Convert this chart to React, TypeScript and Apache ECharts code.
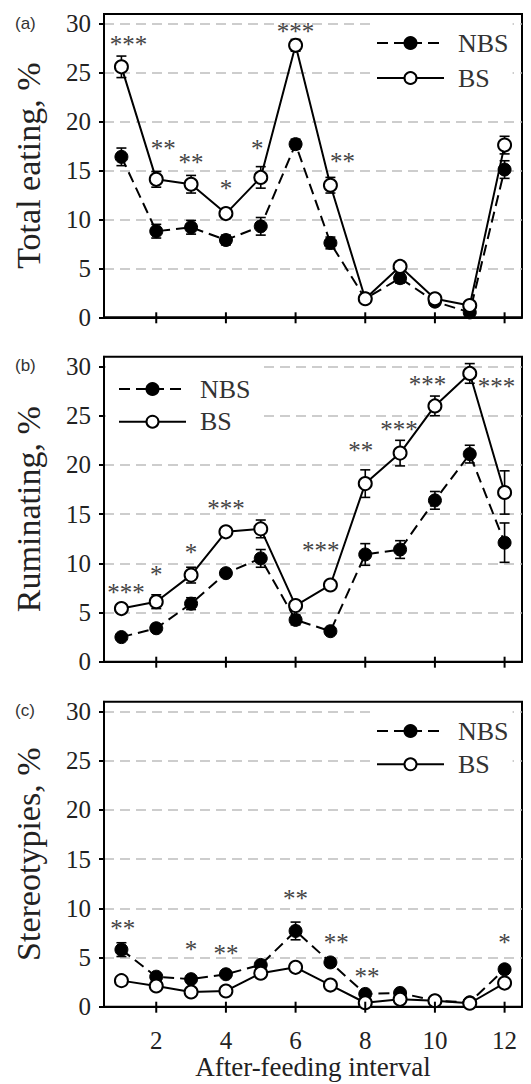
import React, { useEffect, useRef } from "react";
import * as echarts from "echarts";

const intervals = [1, 2, 3, 4, 5, 6, 7, 8, 9, 10, 11, 12];
const xTickValues = [2, 4, 6, 8, 10, 12];
const yTickValues = [0, 5, 10, 15, 20, 25, 30];

const panelNames = ["(a)", "(b)", "(c)"];
const yAxisNames = ["Total eating, %", "Ruminating, %", "Stereotypies, %"];
const xAxisName = "After-feeding interval";

// (a) Total eating
const eatNBS = [16.4, 8.8, 9.2, 7.9, 9.3, 17.7, 7.6, 1.9, 4.0, 1.6, 0.5, 15.1];
const eatNBSerr = [0.9, 0.7, 0.7, 0.5, 0.9, 0.5, 0.6, 0.3, 0.5, 0.4, 0.3, 0.9];
const eatBS = [25.6, 14.1, 13.6, 10.6, 14.3, 27.8, 13.5, 1.9, 5.2, 1.9, 1.2, 17.6];
const eatBSerr = [1.1, 0.8, 0.9, 0.5, 1.1, 0.6, 0.8, 0.3, 0.5, 0.4, 0.3, 0.9];
const eatSigX = [1.2, 2.2, 3.0, 4.0, 4.9, 6.0, 7.35];
const eatSigY = [28.4, 17.8, 16.3, 13.7, 17.8, 29.7, 16.4];
const eatSigText = ["***", "**", "**", "*", "*", "***", "**"];

// (b) Ruminating
const rumNBS = [2.5, 3.4, 5.9, 9.0, 10.5, 4.25, 3.1, 10.9, 11.4, 16.4, 21.1, 12.1];
const rumNBSerr = [0.3, 0.4, 0.6, 0.4, 0.9, 0.5, 0.3, 1.1, 0.9, 0.9, 0.9, 2.0];
const rumBS = [5.4, 6.1, 8.8, 13.2, 13.5, 5.7, 7.8, 18.1, 21.2, 26.0, 29.3, 17.2];
const rumBSerr = [0.3, 0.7, 0.8, 0.4, 0.9, 0.4, 0.3, 1.4, 1.3, 1.0, 1.0, 2.2];
const rumSigX = [1.13, 2.0, 3.0, 4.0, 6.72, 7.87, 8.97, 9.79, 11.77];
const rumSigY = [7.5, 9.35, 11.6, 16.1, 11.8, 22.0, 24.1, 28.7, 28.5];
const rumSigText = ["***", "*", "*", "***", "***", "**", "***", "***", "***"];

// (c) Stereotypies
const stNBS = [5.8, 3.05, 2.8, 3.3, 4.25, 7.7, 4.5, 1.3, 1.4, 0.6, 0.45, 3.8];
const stNBSerr = [0.7, 0.3, 0.3, 0.3, 0.3, 0.9, 0.4, 0.3, 0.2, 0.2, 0.2, 0.4];
const stBS = [2.65, 2.1, 1.5, 1.6, 3.4, 4.0, 2.2, 0.4, 0.75, 0.6, 0.35, 2.4];
const stBSerr = [0.2, 0.2, 0.2, 0.2, 0.3, 0.3, 0.2, 0.1, 0.1, 0.1, 0.1, 0.3];
const stSigX = [1.04, 3.0, 4.0, 6.0, 7.17, 8.05, 12.0];
const stSigY = [8.5, 6.3, 5.9, 11.5, 7.0, 3.6, 7.0];
const stSigText = ["**", "*", "**", "**", "**", "**", "*"];

const panels = [
  { nbs: eatNBS, nbsErr: eatNBSerr, bs: eatBS, bsErr: eatBSerr, sx: eatSigX, sy: eatSigY, st: eatSigText },
  { nbs: rumNBS, nbsErr: rumNBSerr, bs: rumBS, bsErr: rumBSerr, sx: rumSigX, sy: rumSigY, st: rumSigText },
  { nbs: stNBS, nbsErr: stNBSerr, bs: stBS, bsErr: stBSerr, sx: stSigX, sy: stSigY, st: stSigText },
];

const gridTops = [14, 356.7, 701.7];
const gridHeights = [303.3, 305, 305];
const FONT = "'Liberation Serif', 'Times New Roman', serif";
const INK = "#222";

function errorSeries(name: string, vals: number[], errs: number[], idx: number) {
  return {
    type: "custom",
    name,
    xAxisIndex: idx,
    yAxisIndex: idx,
    z: 2,
    data: intervals.map((x, i) => [x, vals[i], errs[i]]),
    renderItem: (params: any, api: any) => {
      const x = api.value(0);
      const y = api.value(1);
      const e = api.value(2);
      const lo = api.coord([x, y - e]);
      const hi = api.coord([x, y + e]);
      const w = 5;
      const st = { stroke: "#000", lineWidth: 1.6 };
      return {
        type: "group",
        children: [
          { type: "line", shape: { x1: lo[0], y1: lo[1], x2: hi[0], y2: hi[1] }, style: st },
          { type: "line", shape: { x1: lo[0] - w, y1: lo[1], x2: lo[0] + w, y2: lo[1] }, style: st },
          { type: "line", shape: { x1: hi[0] - w, y1: hi[1], x2: hi[0] + w, y2: hi[1] }, style: st },
        ],
      };
    },
  };
}

function sigSeries(xs: number[], ys: number[], texts: string[], idx: number) {
  return {
    type: "custom",
    name: "sig" + idx,
    xAxisIndex: idx,
    yAxisIndex: idx,
    z: 5,
    data: xs.map((x, i) => [x, ys[i]]),
    renderItem: (params: any, api: any) => {
      const p = api.coord([api.value(0), api.value(1)]);
      return {
        type: "text",
        x: p[0],
        y: p[1] + 5,
        style: {
          text: texts[params.dataIndex],
          fontSize: 25,
          fontFamily: FONT,
          fill: "#444",
          align: "center",
          verticalAlign: "middle",
        },
      };
    },
  };
}

function tickSeries(idx: number) {
  return {
    type: "custom",
    name: "ticks" + idx,
    xAxisIndex: idx,
    yAxisIndex: idx,
    z: 6,
    data: xTickValues.map((v) => [v, 0]),
    renderItem: (params: any, api: any) => {
      const p = api.coord([api.value(0), api.value(1)]);
      return {
        type: "line",
        shape: { x1: p[0], y1: p[1] - 5, x2: p[0], y2: p[1] + 6 },
        style: { stroke: "#000", lineWidth: 2 },
      };
    },
  };
}

export default function App() {
  const ref = useRef<HTMLDivElement>(null);
  useEffect(() => {
    if (!ref.current) return;
    const chart = echarts.init(ref.current, undefined, { renderer: "svg" });

    const grids = gridTops.map((t, i) => ({
      left: 104,
      right: 9,
      top: t,
      height: gridHeights[i],
      show: true,
      borderColor: "#000",
      borderWidth: 2,
      backgroundColor: "transparent",
      containLabel: false,
      outerBoundsMode: "none",
    }));

    const xAxes = [0, 1, 2].map((i) => ({
      gridIndex: i,
      type: "value",
      min: 0.5,
      max: 12.5,
      axisLine: { show: true, onZero: false, lineStyle: { color: "#000", width: 2 } },
      axisTick: { show: false },
      splitLine: { show: false },
      axisLabel: {
        show: i === 2,
        customValues: xTickValues,
        fontSize: 25,
        fontFamily: FONT,
        color: INK,
        margin: 21,
      },
      name: i === 2 ? xAxisName : "",
      nameLocation: "middle",
      nameGap: 45,
      nameTextStyle: { fontSize: 27, lineHeight: 27, fontFamily: FONT, color: INK },
    }));

    const yAxes = [0, 1, 2].map((i) => ({
      gridIndex: i,
      type: "value",
      min: 0,
      max: 31,
      interval: 5,
      axisLine: { show: true, lineStyle: { color: "#000", width: 2 } },
      axisTick: {
        show: true,
        inside: false,
        length: 5,
        customValues: yTickValues,
        lineStyle: { color: "#000", width: 2 },
      },
      axisLabel: {
        customValues: yTickValues,
        fontSize: 25,
        fontFamily: FONT,
        color: INK,
        margin: 13,
      },
      splitLine: { show: true, lineStyle: { type: [10, 6], color: "#bdbdbd", width: 1.5 } },
      name: yAxisNames[i],
      nameLocation: "middle",
      nameGap: 59,
      nameTextStyle: { fontSize: 34, fontFamily: FONT, color: INK },
    }));

    const series: any[] = [];
    panels.forEach((p, i) => {
      series.push(errorSeries("errNBS" + i, p.nbs, p.nbsErr, i));
      series.push(errorSeries("errBS" + i, p.bs, p.bsErr, i));
      series.push({
        type: "line",
        name: "NBS",
        xAxisIndex: i,
        yAxisIndex: i,
        z: 3,
        data: intervals.map((x, k) => [x, p.nbs[k]]),
        symbol: "circle",
        symbolSize: 13,
        itemStyle: { color: "#000", borderColor: "#000", borderWidth: 1 },
        lineStyle: { color: "#000", width: 2, type: [11, 6] },
      });
      series.push({
        type: "line",
        name: "BS",
        xAxisIndex: i,
        yAxisIndex: i,
        z: 4,
        data: intervals.map((x, k) => [x, p.bs[k]]),
        symbol: "circle",
        symbolSize: 13,
        itemStyle: { color: "#fff", borderColor: "#000", borderWidth: 2 },
        lineStyle: { color: "#000", width: 2, type: "solid" },
      });
      series.push(sigSeries(p.sx, p.sy, p.st, i));
      series.push(tickSeries(i));
    });

    const legendBase = {
      data: ["NBS", "BS"],
      orient: "vertical",
      itemWidth: 67,
      itemHeight: 15,
      selectedMode: false,
      backgroundColor: "#fff",
      textStyle: { fontSize: 26, fontFamily: FONT, color: "#333", lineHeight: 26, padding: [0, 0, 0, 9] },
    };

    const legends = [
      { ...legendBase, left: 370, top: 22, padding: [8, 4, 8, 6], itemGap: 9 },
      { ...legendBase, left: 106, top: 360, padding: [16, 11, 10, 12], itemGap: 6.7 },
      { ...legendBase, left: 370, top: 710, padding: [8, 4, 8, 6], itemGap: 7.3 },
    ];

    const graphics = panelNames.map((t, i) => ({
      type: "text",
      x: 15,
      y: gridTops[i] + 9,
      style: {
        text: t,
        fontSize: 17,
        fontFamily: "'Liberation Sans', Arial, sans-serif",
        fill: "#333",
        verticalAlign: "middle",
      },
    }));

    chart.setOption({
      animation: false,
      backgroundColor: "#fff",
      textStyle: { fontFamily: FONT },
      grid: grids,
      xAxis: xAxes,
      yAxis: yAxes,
      legend: legends,
      series,
      graphic: graphics,
    });
    return () => chart.dispose();
  }, []);
  return (
    <div
      ref={ref}
      style={{ position: "fixed", left: 0, top: 0, width: 531, height: 1084 }}
    />
  );
}
